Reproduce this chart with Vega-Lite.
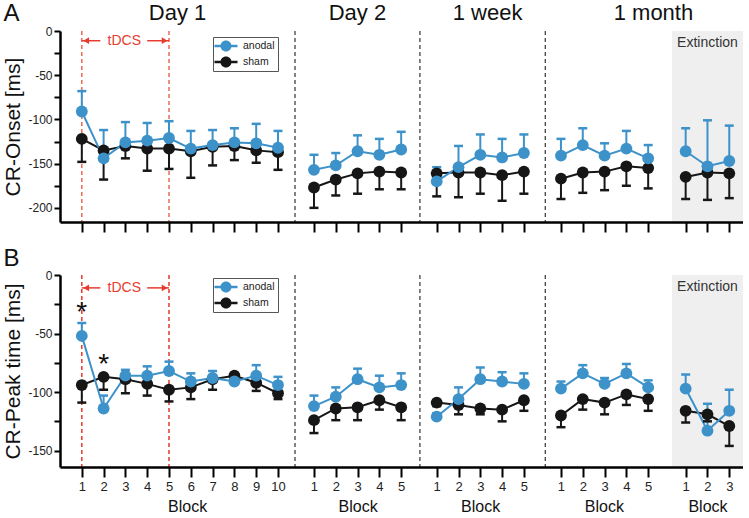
{
"$schema":"https://vega.github.io/schema/vega-lite/v6.json",
"padding":{"left":2,"top":1,"right":0,"bottom":0},
"config":{"font":"Liberation Sans","view":{"stroke":null},"axis":{"grid":false}},
"datasets":{"d":[
{"m":"A","s":"d1","g":"sham","p":1,"v":-122,"e":-148},{"m":"A","s":"d1","g":"sham","p":2,"v":-135,"e":-168},{"m":"A","s":"d1","g":"sham","p":3,"v":-130,"e":-144},{"m":"A","s":"d1","g":"sham","p":4,"v":-133,"e":-158},{"m":"A","s":"d1","g":"sham","p":5,"v":-133,"e":-156},{"m":"A","s":"d1","g":"sham","p":6,"v":-136,"e":-166},{"m":"A","s":"d1","g":"sham","p":7,"v":-131,"e":-152},{"m":"A","s":"d1","g":"sham","p":8,"v":-130,"e":-146},{"m":"A","s":"d1","g":"sham","p":9,"v":-135,"e":-149},{"m":"A","s":"d1","g":"sham","p":10,"v":-137,"e":-157},
{"m":"A","s":"d1","g":"anodal","p":1,"v":-91,"e":-68},{"m":"A","s":"d1","g":"anodal","p":2,"v":-144,"e":-112},{"m":"A","s":"d1","g":"anodal","p":3,"v":-126,"e":-103},{"m":"A","s":"d1","g":"anodal","p":4,"v":-124,"e":-104},{"m":"A","s":"d1","g":"anodal","p":5,"v":-121,"e":-102},{"m":"A","s":"d1","g":"anodal","p":6,"v":-133,"e":-113},{"m":"A","s":"d1","g":"anodal","p":7,"v":-129,"e":-112},{"m":"A","s":"d1","g":"anodal","p":8,"v":-126,"e":-110},{"m":"A","s":"d1","g":"anodal","p":9,"v":-127,"e":-105},{"m":"A","s":"d1","g":"anodal","p":10,"v":-132,"e":-113},
{"m":"A","s":"d2","g":"sham","p":11.65,"v":-177,"e":-200},{"m":"A","s":"d2","g":"sham","p":12.65,"v":-168,"e":-186},{"m":"A","s":"d2","g":"sham","p":13.65,"v":-161,"e":-184},{"m":"A","s":"d2","g":"sham","p":14.65,"v":-159,"e":-179},{"m":"A","s":"d2","g":"sham","p":15.65,"v":-160,"e":-179},
{"m":"A","s":"d2","g":"anodal","p":11.65,"v":-157,"e":-140},{"m":"A","s":"d2","g":"anodal","p":12.65,"v":-152,"e":-138},{"m":"A","s":"d2","g":"anodal","p":13.65,"v":-136,"e":-118},{"m":"A","s":"d2","g":"anodal","p":14.65,"v":-140,"e":-122},{"m":"A","s":"d2","g":"anodal","p":15.65,"v":-134,"e":-114},
{"m":"A","s":"w1","g":"sham","p":17.28,"v":-161,"e":-187},{"m":"A","s":"w1","g":"sham","p":18.28,"v":-160,"e":-188},{"m":"A","s":"w1","g":"sham","p":19.28,"v":-160,"e":-184},{"m":"A","s":"w1","g":"sham","p":20.28,"v":-163,"e":-192},{"m":"A","s":"w1","g":"sham","p":21.28,"v":-159,"e":-184},
{"m":"A","s":"w1","g":"anodal","p":17.28,"v":-170,"e":-154},{"m":"A","s":"w1","g":"anodal","p":18.28,"v":-154,"e":-130},{"m":"A","s":"w1","g":"anodal","p":19.28,"v":-140,"e":-117},{"m":"A","s":"w1","g":"anodal","p":20.28,"v":-143,"e":-122},{"m":"A","s":"w1","g":"anodal","p":21.28,"v":-138,"e":-117},
{"m":"A","s":"m1","g":"sham","p":22.98,"v":-167,"e":-190},{"m":"A","s":"m1","g":"sham","p":23.98,"v":-160,"e":-183},{"m":"A","s":"m1","g":"sham","p":24.98,"v":-159,"e":-180},{"m":"A","s":"m1","g":"sham","p":25.98,"v":-153,"e":-175},{"m":"A","s":"m1","g":"sham","p":26.98,"v":-155,"e":-178},
{"m":"A","s":"m1","g":"anodal","p":22.98,"v":-141,"e":-122},{"m":"A","s":"m1","g":"anodal","p":23.98,"v":-129,"e":-110},{"m":"A","s":"m1","g":"anodal","p":24.98,"v":-141,"e":-127},{"m":"A","s":"m1","g":"anodal","p":25.98,"v":-133,"e":-113},{"m":"A","s":"m1","g":"anodal","p":26.98,"v":-144,"e":-129},
{"m":"A","s":"ex","g":"sham","p":28.7,"v":-165,"e":-190},{"m":"A","s":"ex","g":"sham","p":29.7,"v":-160,"e":-191},{"m":"A","s":"ex","g":"sham","p":30.7,"v":-161,"e":-189},
{"m":"A","s":"ex","g":"anodal","p":28.7,"v":-136,"e":-110},{"m":"A","s":"ex","g":"anodal","p":29.7,"v":-153,"e":-101},{"m":"A","s":"ex","g":"anodal","p":30.7,"v":-147,"e":-107},
{"m":"B","s":"d1","g":"sham","p":1,"v":-94,"e":-109},{"m":"B","s":"d1","g":"sham","p":2,"v":-87,"e":-98},{"m":"B","s":"d1","g":"sham","p":3,"v":-89,"e":-101},{"m":"B","s":"d1","g":"sham","p":4,"v":-93,"e":-103},{"m":"B","s":"d1","g":"sham","p":5,"v":-98,"e":-108},{"m":"B","s":"d1","g":"sham","p":6,"v":-96,"e":-106},{"m":"B","s":"d1","g":"sham","p":7,"v":-89,"e":-98},{"m":"B","s":"d1","g":"sham","p":8,"v":-86,"e":-89},{"m":"B","s":"d1","g":"sham","p":9,"v":-92,"e":-99},{"m":"B","s":"d1","g":"sham","p":10,"v":-101,"e":-106},
{"m":"B","s":"d1","g":"anodal","p":1,"v":-52,"e":-41},{"m":"B","s":"d1","g":"anodal","p":2,"v":-114,"e":-103},{"m":"B","s":"d1","g":"anodal","p":3,"v":-86,"e":-81},{"m":"B","s":"d1","g":"anodal","p":4,"v":-86,"e":-78},{"m":"B","s":"d1","g":"anodal","p":5,"v":-82,"e":-74},{"m":"B","s":"d1","g":"anodal","p":6,"v":-91,"e":-84},{"m":"B","s":"d1","g":"anodal","p":7,"v":-88,"e":-82},{"m":"B","s":"d1","g":"anodal","p":8,"v":-91,"e":-88},{"m":"B","s":"d1","g":"anodal","p":9,"v":-86,"e":-77},{"m":"B","s":"d1","g":"anodal","p":10,"v":-94,"e":-87},
{"m":"B","s":"d2","g":"sham","p":11.65,"v":-124,"e":-135},{"m":"B","s":"d2","g":"sham","p":12.65,"v":-114,"e":-124},{"m":"B","s":"d2","g":"sham","p":13.65,"v":-113,"e":-124},{"m":"B","s":"d2","g":"sham","p":14.65,"v":-107,"e":-115},{"m":"B","s":"d2","g":"sham","p":15.65,"v":-113,"e":-124},
{"m":"B","s":"d2","g":"anodal","p":11.65,"v":-112,"e":-103},{"m":"B","s":"d2","g":"anodal","p":12.65,"v":-104,"e":-96},{"m":"B","s":"d2","g":"anodal","p":13.65,"v":-89,"e":-80},{"m":"B","s":"d2","g":"anodal","p":14.65,"v":-96,"e":-86},{"m":"B","s":"d2","g":"anodal","p":15.65,"v":-94,"e":-84},
{"m":"B","s":"w1","g":"sham","p":17.28,"v":-109,"e":-112},{"m":"B","s":"w1","g":"sham","p":18.28,"v":-111,"e":-119},{"m":"B","s":"w1","g":"sham","p":19.28,"v":-114,"e":-119},{"m":"B","s":"w1","g":"sham","p":20.28,"v":-115,"e":-125},{"m":"B","s":"w1","g":"sham","p":21.28,"v":-107,"e":-116},
{"m":"B","s":"w1","g":"anodal","p":17.28,"v":-121,"e":-118},{"m":"B","s":"w1","g":"anodal","p":18.28,"v":-106,"e":-96},{"m":"B","s":"w1","g":"anodal","p":19.28,"v":-89,"e":-79},{"m":"B","s":"w1","g":"anodal","p":20.28,"v":-91,"e":-83},{"m":"B","s":"w1","g":"anodal","p":21.28,"v":-93,"e":-84},
{"m":"B","s":"m1","g":"sham","p":22.98,"v":-120,"e":-130},{"m":"B","s":"m1","g":"sham","p":23.98,"v":-106,"e":-115},{"m":"B","s":"m1","g":"sham","p":24.98,"v":-109,"e":-119},{"m":"B","s":"m1","g":"sham","p":25.98,"v":-102,"e":-111},{"m":"B","s":"m1","g":"sham","p":26.98,"v":-106,"e":-116},
{"m":"B","s":"m1","g":"anodal","p":22.98,"v":-97,"e":-91},{"m":"B","s":"m1","g":"anodal","p":23.98,"v":-84,"e":-77},{"m":"B","s":"m1","g":"anodal","p":24.98,"v":-93,"e":-88},{"m":"B","s":"m1","g":"anodal","p":25.98,"v":-84,"e":-76},{"m":"B","s":"m1","g":"anodal","p":26.98,"v":-96,"e":-90},
{"m":"B","s":"ex","g":"sham","p":28.7,"v":-116,"e":-126},{"m":"B","s":"ex","g":"sham","p":29.7,"v":-119,"e":-125},{"m":"B","s":"ex","g":"sham","p":30.7,"v":-129,"e":-146},
{"m":"B","s":"ex","g":"anodal","p":28.7,"v":-97,"e":-85},{"m":"B","s":"ex","g":"anodal","p":29.7,"v":-133,"e":-110},{"m":"B","s":"ex","g":"anodal","p":30.7,"v":-116,"e":-98}
]},
"spacing":13,
"resolve":{"scale":{"color":"independent"},"legend":{"color":"independent"}},
"vconcat":[
{
"width":683,"height":191,
"resolve":{"axis":{"x":"independent","y":"independent"}},
"layer":[
{"data":{"values":[{"p":28.07,"p2":31.33}]},"mark":{"type":"rect","color":"#efefef"},"encoding":{"x":{"field":"p","type":"quantitative","scale":{"domain":[0,31.33],"nice":false,"zero":false},"axis":null},"x2":{"field":"p2"},"y":{"datum":0,"type":"quantitative","scale":{"domain":[-216,0],"nice":false,"zero":false},"axis":{"orient":"left","domain":false,"ticks":false,"labels":false,"title":"A","titleAngle":0,"titleX":-57,"titleY":-11,"titleAlign":"left","titleBaseline":"alphabetic","titleFontSize":24,"titleFontWeight":"normal","titleColor":"#111","zindex":1}},"y2":{"datum":-216}}},
{"data":{"values":[{"p":10.78},{"p":16.51},{"p":22.26}]},"mark":{"type":"rule","color":"#333","strokeDash":[4,3],"strokeWidth":1.2},"encoding":{"x":{"field":"p","type":"quantitative","scale":{"domain":[0,31.33],"nice":false,"zero":false},"axis":{"orient":"top","values":[5.37,13.62,19.59,27.2],"labelExpr":"datum.value < 10 ? 'Day 1' : datum.value < 16 ? 'Day 2' : datum.value < 22 ? '1 week' : '1 month'","labelFontSize":22,"labelColor":"#111","labelBaseline":"alphabetic","labelPadding":12,"ticks":false,"tickSize":0,"domain":false,"labelFlush":false,"labelOverlap":false,"labelBound":false,"title":null,"zindex":1}}}},
{"data":{"values":[{"p":1},{"p":5}]},"mark":{"type":"rule","color":"#ec6a55","strokeDash":[4,3],"strokeWidth":1.5},"encoding":{"x":{"field":"p","type":"quantitative","scale":{"domain":[0,31.33],"nice":false,"zero":false},"axis":null}}},
{"data":{"values":[{"p":1,"p2":1.85,"v":-11},{"p":4,"p2":5,"v":-11}]},"mark":{"type":"rule","color":"#e63c2f","strokeWidth":1.5},"encoding":{"x":{"field":"p","type":"quantitative","scale":{"domain":[0,31.33],"nice":false,"zero":false},"axis":null},"x2":{"field":"p2"},"y":{"field":"v","type":"quantitative","scale":{"domain":[-216,0],"nice":false,"zero":false},"axis":null}}},
{"data":{"values":[{"p":1.2,"v":-11,"sh":"triangle-left"},{"p":4.8,"v":-11,"sh":"triangle-right"}]},"mark":{"type":"point","filled":true,"opacity":1,"size":45,"color":"#e63c2f"},"encoding":{"x":{"field":"p","type":"quantitative","scale":{"domain":[0,31.33],"nice":false,"zero":false},"axis":null},"shape":{"field":"sh","type":"nominal","scale":null},"y":{"field":"v","type":"quantitative","scale":{"domain":[-216,0],"nice":false,"zero":false},"axis":null}}},
{"data":{"values":[{"p":2.95,"v":-11,"t":"tDCS","c":"#e63c2f"},{"p":29.7,"v":-13.5,"t":"Extinction","c":"#333333"}]},"mark":{"type":"text","baseline":"middle","fontSize":14},"encoding":{"x":{"field":"p","type":"quantitative","scale":{"domain":[0,31.33],"nice":false,"zero":false},"axis":null},"text":{"field":"t"},"color":{"field":"c","type":"nominal","scale":null},"y":{"field":"v","type":"quantitative","scale":{"domain":[-216,0],"nice":false,"zero":false},"axis":null}}},
{"data":{"name":"d"},"transform":[{"filter":"datum.m=='A'"}],"mark":{"type":"line","strokeWidth":2},"encoding":{"x":{"field":"p","type":"quantitative","scale":{"domain":[0,31.33],"nice":false,"zero":false},"axis":{"orient":"bottom","values":[1,2,3,4,5,6,7,8,9,10,11.65,12.65,13.65,14.65,15.65,17.28,18.28,19.28,20.28,21.28,22.98,23.98,24.98,25.98,26.98,28.7,29.7,30.7],"labels":false,"title":null,"domainColor":"#000","domainWidth":2.5,"tickColor":"#000","tickWidth":2,"tickSize":10,"zindex":1}},"detail":{"field":"s"},"color":{"field":"g","type":"nominal","scale":{"domain":["anodal","sham"],"range":["#3d92c9","#161616"]},"legend":{"title":null,"orient":"none","legendX":153,"legendY":6,"symbolType":"M-1.92,-0.2L1.92,-0.2L1.92,0.2L-1.92,0.2Z M0.92,0A0.92,0.92 0 1,1 -0.92,0A0.92,0.92 0 1,1 0.92,0Z","symbolSize":144,"symbolOffset":4,"symbolStrokeWidth":0,"labelOffset":11,"labelFontSize":10.5,"labelColor":"#222","rowPadding":4,"padding":3,"strokeColor":"#555","fillColor":"#ffffff"}},"y":{"field":"v","type":"quantitative","scale":{"domain":[-216,0],"nice":false,"zero":false},"axis":{"orient":"left","values":[0,-25,-50,-75,-100,-125,-150,-175,-200],"labelExpr":"datum.value % 50 == 0 ? '' + datum.value : ''","labelFlush":false,"labelOverlap":false,"title":"CR-Onset [ms]","titleFontSize":21,"titleFontWeight":"normal","titleColor":"#111","titlePadding":4,"labelFontSize":12,"labelColor":"#222","labelPadding":2,"tickSize":6,"tickWidth":2,"tickColor":"#000","domainColor":"#000","domainWidth":2.5,"zindex":1}}}},
{"data":{"name":"d"},"transform":[{"filter":"datum.m=='A'"}],"mark":{"type":"rule","strokeWidth":2},"encoding":{"x":{"field":"p","type":"quantitative","scale":{"domain":[0,31.33],"nice":false,"zero":false},"axis":null},"color":{"field":"g","type":"nominal","scale":{"domain":["anodal","sham"],"range":["#3d92c9","#161616"]},"legend":{"title":null,"orient":"none","legendX":153,"legendY":6,"symbolType":"M-1.92,-0.2L1.92,-0.2L1.92,0.2L-1.92,0.2Z M0.92,0A0.92,0.92 0 1,1 -0.92,0A0.92,0.92 0 1,1 0.92,0Z","symbolSize":144,"symbolOffset":4,"symbolStrokeWidth":0,"labelOffset":11,"labelFontSize":10.5,"labelColor":"#222","rowPadding":4,"padding":3,"strokeColor":"#555","fillColor":"#ffffff"}},"y":{"field":"v","type":"quantitative","scale":{"domain":[-216,0],"nice":false,"zero":false},"axis":null},"y2":{"field":"e"}}},
{"data":{"name":"d"},"transform":[{"filter":"datum.m=='A'"}],"mark":{"type":"tick","orient":"horizontal","thickness":2.5,"size":9,"opacity":1},"encoding":{"x":{"field":"p","type":"quantitative","scale":{"domain":[0,31.33],"nice":false,"zero":false},"axis":null},"color":{"field":"g","type":"nominal","scale":{"domain":["anodal","sham"],"range":["#3d92c9","#161616"]},"legend":{"title":null,"orient":"none","legendX":153,"legendY":6,"symbolType":"M-1.92,-0.2L1.92,-0.2L1.92,0.2L-1.92,0.2Z M0.92,0A0.92,0.92 0 1,1 -0.92,0A0.92,0.92 0 1,1 0.92,0Z","symbolSize":144,"symbolOffset":4,"symbolStrokeWidth":0,"labelOffset":11,"labelFontSize":10.5,"labelColor":"#222","rowPadding":4,"padding":3,"strokeColor":"#555","fillColor":"#ffffff"}},"y":{"field":"e","type":"quantitative","scale":{"domain":[-216,0],"nice":false,"zero":false},"axis":null}}},
{"data":{"name":"d"},"transform":[{"filter":"datum.m=='A'"}],"mark":{"type":"point","filled":true,"size":140,"opacity":1,"strokeWidth":0},"encoding":{"x":{"field":"p","type":"quantitative","scale":{"domain":[0,31.33],"nice":false,"zero":false},"axis":null},"color":{"field":"g","type":"nominal","scale":{"domain":["anodal","sham"],"range":["#3d92c9","#161616"]},"legend":{"title":null,"orient":"none","legendX":153,"legendY":6,"symbolType":"M-1.92,-0.2L1.92,-0.2L1.92,0.2L-1.92,0.2Z M0.92,0A0.92,0.92 0 1,1 -0.92,0A0.92,0.92 0 1,1 0.92,0Z","symbolSize":144,"symbolOffset":4,"symbolStrokeWidth":0,"labelOffset":11,"labelFontSize":10.5,"labelColor":"#222","rowPadding":4,"padding":3,"strokeColor":"#555","fillColor":"#ffffff"}},"y":{"field":"v","type":"quantitative","scale":{"domain":[-216,0],"nice":false,"zero":false},"axis":null}}}
]
},
{
"width":683,"height":192,
"resolve":{"axis":{"x":"independent","y":"independent"}},
"layer":[
{"data":{"values":[{"p":28.07,"p2":31.33}]},"mark":{"type":"rect","color":"#efefef"},"encoding":{"x":{"field":"p","type":"quantitative","scale":{"domain":[0,31.33],"nice":false,"zero":false},"axis":null},"x2":{"field":"p2"},"y":{"datum":0,"type":"quantitative","scale":{"domain":[-164,0],"nice":false,"zero":false},"axis":{"orient":"left","domain":false,"ticks":false,"labels":false,"title":"B","titleAngle":0,"titleX":-57,"titleY":-10,"titleAlign":"left","titleBaseline":"alphabetic","titleFontSize":24,"titleFontWeight":"normal","titleColor":"#111","zindex":1}},"y2":{"datum":-164}}},
{"data":{"values":[{"p":10.78},{"p":16.51},{"p":22.26}]},"mark":{"type":"rule","color":"#333","strokeDash":[4,3],"strokeWidth":1.2},"encoding":{"x":{"field":"p","type":"quantitative","scale":{"domain":[0,31.33],"nice":false,"zero":false},"axis":{"orient":"bottom","values":[5.83,13.65,19.27,24.95,29.7],"labelExpr":"'Block'","labelFontSize":16,"labelColor":"#111","labelBaseline":"top","labelPadding":31,"ticks":false,"tickSize":0,"domain":false,"labelFlush":false,"labelOverlap":false,"labelBound":false,"title":null,"zindex":1}}}},
{"data":{"values":[{"p":1},{"p":5}]},"mark":{"type":"rule","color":"#e8392b","strokeDash":[4,3],"strokeWidth":1.5},"encoding":{"x":{"field":"p","type":"quantitative","scale":{"domain":[0,31.33],"nice":false,"zero":false},"axis":null}}},
{"data":{"values":[{"p":1,"p2":1.85,"v":-11},{"p":4,"p2":5,"v":-11}]},"mark":{"type":"rule","color":"#e63c2f","strokeWidth":1.5},"encoding":{"x":{"field":"p","type":"quantitative","scale":{"domain":[0,31.33],"nice":false,"zero":false},"axis":null},"x2":{"field":"p2"},"y":{"field":"v","type":"quantitative","scale":{"domain":[-164,0],"nice":false,"zero":false},"axis":null}}},
{"data":{"values":[{"p":1.2,"v":-11,"sh":"triangle-left"},{"p":4.8,"v":-11,"sh":"triangle-right"}]},"mark":{"type":"point","filled":true,"opacity":1,"size":45,"color":"#e63c2f"},"encoding":{"x":{"field":"p","type":"quantitative","scale":{"domain":[0,31.33],"nice":false,"zero":false},"axis":null},"shape":{"field":"sh","type":"nominal","scale":null},"y":{"field":"v","type":"quantitative","scale":{"domain":[-164,0],"nice":false,"zero":false},"axis":null}}},
{"data":{"values":[{"p":2.95,"v":-11,"t":"tDCS","c":"#e63c2f"},{"p":29.7,"v":-10,"t":"Extinction","c":"#333333"}]},"mark":{"type":"text","baseline":"middle","fontSize":14},"encoding":{"x":{"field":"p","type":"quantitative","scale":{"domain":[0,31.33],"nice":false,"zero":false},"axis":null},"text":{"field":"t"},"color":{"field":"c","type":"nominal","scale":null},"y":{"field":"v","type":"quantitative","scale":{"domain":[-164,0],"nice":false,"zero":false},"axis":null}}},
{"data":{"values":[{"p":1,"v":-26},{"p":2,"v":-70}]},"mark":{"type":"text","text":"*","fontSize":28,"color":"#111","baseline":"alphabetic","dy":16},"encoding":{"x":{"field":"p","type":"quantitative","scale":{"domain":[0,31.33],"nice":false,"zero":false},"axis":null},"y":{"field":"v","type":"quantitative","scale":{"domain":[-164,0],"nice":false,"zero":false},"axis":null}}},
{"data":{"name":"d"},"transform":[{"filter":"datum.m=='B'"}],"mark":{"type":"line","strokeWidth":2},"encoding":{"x":{"field":"p","type":"quantitative","scale":{"domain":[0,31.33],"nice":false,"zero":false},"axis":{"orient":"bottom","values":[1,2,3,4,5,6,7,8,9,10,11.65,12.65,13.65,14.65,15.65,17.28,18.28,19.28,20.28,21.28,22.98,23.98,24.98,25.98,26.98,28.7,29.7,30.7],"labelExpr":"datum.value < 10.7 ? round(datum.value) : datum.value < 16.5 ? round(datum.value - 10.65) : datum.value < 22.3 ? round(datum.value - 16.28) : datum.value < 28 ? round(datum.value - 21.98) : round(datum.value - 27.7)","labelFontSize":13,"labelColor":"#222","labelPadding":3,"labelFlush":false,"labelOverlap":false,"title":null,"domainColor":"#000","domainWidth":2.5,"tickColor":"#000","tickWidth":2,"tickSize":10,"zindex":1}},"detail":{"field":"s"},"color":{"field":"g","type":"nominal","scale":{"domain":["anodal","sham"],"range":["#3d92c9","#161616"]},"legend":{"title":null,"orient":"none","legendX":153,"legendY":3,"symbolType":"M-1.92,-0.2L1.92,-0.2L1.92,0.2L-1.92,0.2Z M0.92,0A0.92,0.92 0 1,1 -0.92,0A0.92,0.92 0 1,1 0.92,0Z","symbolSize":144,"symbolOffset":4,"symbolStrokeWidth":0,"labelOffset":11,"labelFontSize":10.5,"labelColor":"#222","rowPadding":4,"padding":3,"strokeColor":"#555","fillColor":"#ffffff"}},"y":{"field":"v","type":"quantitative","scale":{"domain":[-164,0],"nice":false,"zero":false},"axis":{"orient":"left","values":[0,-25,-50,-75,-100,-125,-150],"labelExpr":"datum.value % 50 == 0 ? '' + datum.value : ''","labelFlush":false,"labelOverlap":false,"title":"CR-Peak time [ms]","titleFontSize":21,"titleFontWeight":"normal","titleColor":"#111","titlePadding":4,"labelFontSize":12,"labelColor":"#222","labelPadding":2,"tickSize":6,"tickWidth":2,"tickColor":"#000","domainColor":"#000","domainWidth":2.5,"zindex":1}}}},
{"data":{"name":"d"},"transform":[{"filter":"datum.m=='B'"}],"mark":{"type":"rule","strokeWidth":2},"encoding":{"x":{"field":"p","type":"quantitative","scale":{"domain":[0,31.33],"nice":false,"zero":false},"axis":null},"color":{"field":"g","type":"nominal","scale":{"domain":["anodal","sham"],"range":["#3d92c9","#161616"]},"legend":{"title":null,"orient":"none","legendX":153,"legendY":3,"symbolType":"M-1.92,-0.2L1.92,-0.2L1.92,0.2L-1.92,0.2Z M0.92,0A0.92,0.92 0 1,1 -0.92,0A0.92,0.92 0 1,1 0.92,0Z","symbolSize":144,"symbolOffset":4,"symbolStrokeWidth":0,"labelOffset":11,"labelFontSize":10.5,"labelColor":"#222","rowPadding":4,"padding":3,"strokeColor":"#555","fillColor":"#ffffff"}},"y":{"field":"v","type":"quantitative","scale":{"domain":[-164,0],"nice":false,"zero":false},"axis":null},"y2":{"field":"e"}}},
{"data":{"name":"d"},"transform":[{"filter":"datum.m=='B'"}],"mark":{"type":"tick","orient":"horizontal","thickness":2.5,"size":9,"opacity":1},"encoding":{"x":{"field":"p","type":"quantitative","scale":{"domain":[0,31.33],"nice":false,"zero":false},"axis":null},"color":{"field":"g","type":"nominal","scale":{"domain":["anodal","sham"],"range":["#3d92c9","#161616"]},"legend":{"title":null,"orient":"none","legendX":153,"legendY":3,"symbolType":"M-1.92,-0.2L1.92,-0.2L1.92,0.2L-1.92,0.2Z M0.92,0A0.92,0.92 0 1,1 -0.92,0A0.92,0.92 0 1,1 0.92,0Z","symbolSize":144,"symbolOffset":4,"symbolStrokeWidth":0,"labelOffset":11,"labelFontSize":10.5,"labelColor":"#222","rowPadding":4,"padding":3,"strokeColor":"#555","fillColor":"#ffffff"}},"y":{"field":"e","type":"quantitative","scale":{"domain":[-164,0],"nice":false,"zero":false},"axis":null}}},
{"data":{"name":"d"},"transform":[{"filter":"datum.m=='B'"}],"mark":{"type":"point","filled":true,"size":140,"opacity":1,"strokeWidth":0},"encoding":{"x":{"field":"p","type":"quantitative","scale":{"domain":[0,31.33],"nice":false,"zero":false},"axis":null},"color":{"field":"g","type":"nominal","scale":{"domain":["anodal","sham"],"range":["#3d92c9","#161616"]},"legend":{"title":null,"orient":"none","legendX":153,"legendY":3,"symbolType":"M-1.92,-0.2L1.92,-0.2L1.92,0.2L-1.92,0.2Z M0.92,0A0.92,0.92 0 1,1 -0.92,0A0.92,0.92 0 1,1 0.92,0Z","symbolSize":144,"symbolOffset":4,"symbolStrokeWidth":0,"labelOffset":11,"labelFontSize":10.5,"labelColor":"#222","rowPadding":4,"padding":3,"strokeColor":"#555","fillColor":"#ffffff"}},"y":{"field":"v","type":"quantitative","scale":{"domain":[-164,0],"nice":false,"zero":false},"axis":null}}}
]
}
]
}
